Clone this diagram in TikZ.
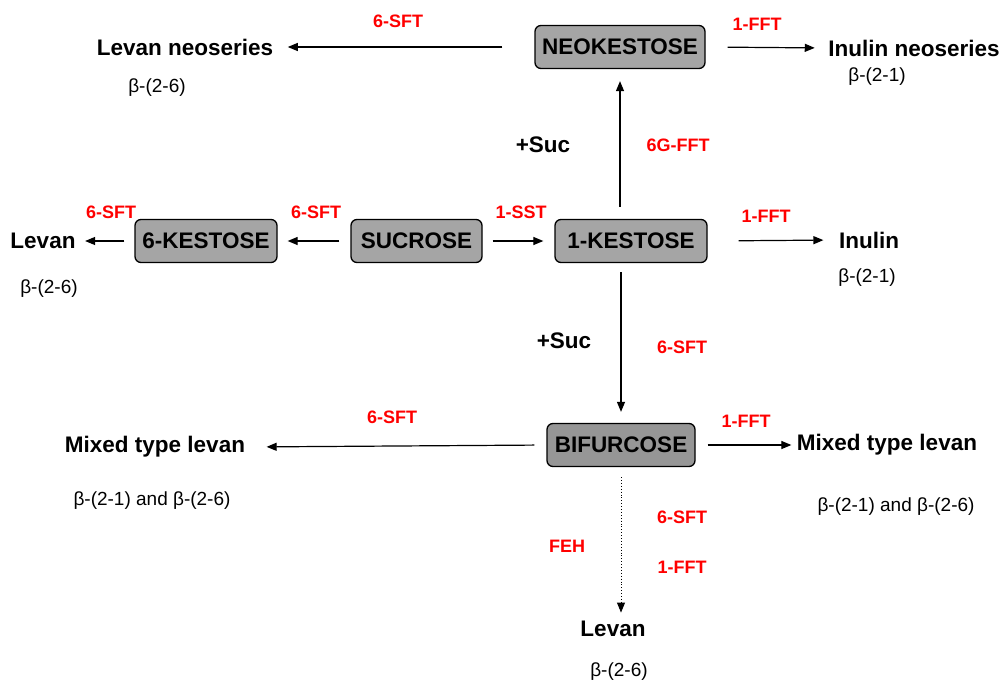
\documentclass[tikz,border=0pt]{standalone}
\usepackage{fontspec}
\setmainfont{Liberation Sans}
\usetikzlibrary{arrows.meta}
\definecolor{boxgray}{RGB}{165,165,165}
\definecolor{bifgray}{RGB}{150,150,150}
\definecolor{enzred}{RGB}{255,0,0}
\begin{document}
\begin{tikzpicture}[x=1pt,y=-1pt,line width=1.2pt,>={Triangle[length=10pt,width=8pt]},
    sugar/.style={draw=black,line width=1.3pt,rounded corners=6pt,fill=boxgray,
      minimum height=43pt,inner xsep=0pt,font=\fontsize{22.5}{24}\selectfont\bfseries},
    prod/.style={inner sep=0pt,font=\fontsize{22.5}{24}\selectfont\bfseries},
    enz/.style={inner sep=0pt,text=enzred,font=\fontsize{18}{20}\selectfont\bfseries},
    link/.style={inner sep=0pt,font=\fontsize{19}{21}\selectfont}]
      \useasboundingbox (0,0) rectangle (1003,685);
      \node[sugar,minimum width=170pt] (neo) at (620,47) {NEOKESTOSE};
      \node[sugar,minimum width=142pt] (kes6) at (206,241) {6-KESTOSE};
      \node[sugar,minimum width=131pt] (suc) at (416.5,241) {SUCROSE};
      \node[sugar,minimum width=152pt] (kes1) at (631,241) {1-KESTOSE};
      \node[sugar,minimum width=148pt,fill=bifgray] (bif) at (621,445) {BIFURCOSE};
      \node[prod] (levneo) at (185,47) {Levan neoseries};
      \node[link] (levneob) at (157,88) {β-(2-6)};
      \node[prod] (inuneo) at (914,48) {Inulin neoseries};
      \node[link] (inuneob) at (877,77) {β-(2-1)};
      \node[prod] (lev) at (43,241) {Levan};
      \node[link] (levb) at (49,289) {β-(2-6)};
      \node[prod] (inu) at (869,240) {Inulin};
      \node[link] (inub) at (867,278) {β-(2-1)};
      \node[prod] (mixl) at (155,447) {Mixed type levan};
      \node[link] (mixlb) at (152,501) {β-(2-1) and β-(2-6)};
      \node[prod] (mixr) at (887,445) {Mixed type levan};
      \node[link] (mixrb) at (896,507) {β-(2-1) and β-(2-6)};
      \node[prod] (levbot) at (613,629) {Levan};
      \node[link] (levbotb) at (619,672) {β-(2-6)};
      \node[prod] (sucup) at (543,145) {+Suc};
      \node[prod] (sucdown) at (564,341) {+Suc};
      \node[enz] (e1) at (398,21) {6-SFT};
      \node[enz] (e2) at (757,24) {1-FFT};
      \node[enz] (e3) at (678,145) {6G-FFT};
      \node[enz] (e4) at (111,212) {6-SFT};
      \node[enz] (e5) at (316,212) {6-SFT};
      \node[enz] (e6) at (521,212) {1-SST};
      \node[enz] (e7) at (766,216) {1-FFT};
      \node[enz] (e8) at (682,347) {6-SFT};
      \node[enz] (e9) at (392,417) {6-SFT};
      \node[enz] (e10) at (746,421) {1-FFT};
      \node[enz] (e11) at (682,517) {6-SFT};
      \node[enz] (e12) at (682,567) {1-FFT};
      \node[enz] (e13) at (567,546) {FEH};
      \draw[->,shorten <=32pt,shorten >=14pt] (neo.west) -- (levneo.east);
      \draw[->,shorten <=22pt,shorten >=13pt] (neo.east) -- (inuneo.west);
      \draw[->,shorten <=12pt,shorten >=12pt] (kes1.north -| neo.south) -- (neo.south);
      \draw[->,shorten <=11pt,shorten >=10pt] (suc.west) -- (kes6.east);
      \draw[->,shorten <=10pt,shorten >=9pt] (kes6.west) -- (lev.east);
      \draw[->,shorten <=10pt,shorten >=11pt] (suc.east) -- (kes1.west);
      \draw[->,shorten <=31pt,shorten >=15pt] (kes1.east) -- (inu.west);
      \draw[->,shorten <=9pt,shorten >=11pt] (kes1.south -| bif.north) -- (bif.north);
      \draw[->,shorten <=12pt,shorten >=21pt] (bif.west) -- (mixl.east);
      \draw[->,shorten <=12pt,shorten >=5pt] (bif.east) -- (mixr.west);
      \draw[->,dotted,line width=0.9pt,shorten <=10pt,shorten >=8pt] (bif.south) -- (bif.south |- levbot.north);
    \end{tikzpicture}
\end{document}
